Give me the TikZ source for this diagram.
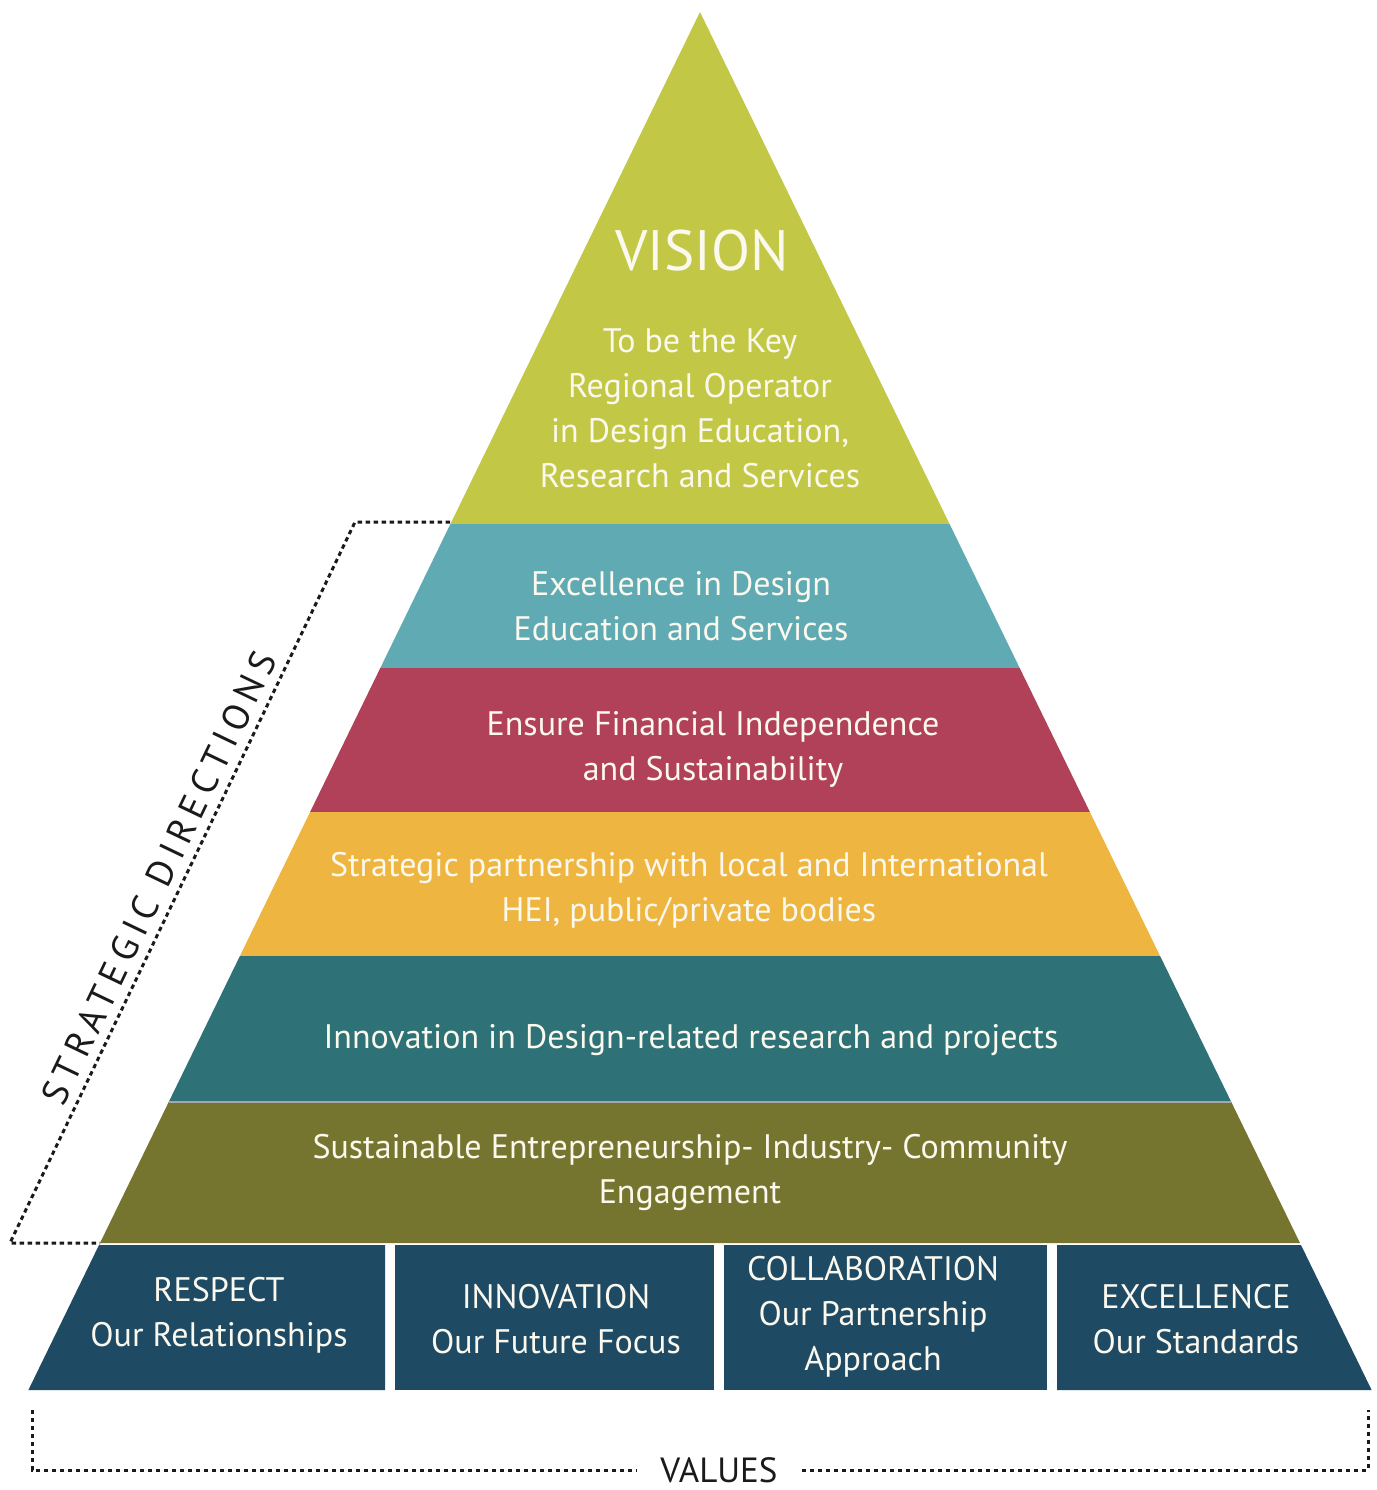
\documentclass[tikz,border=0pt]{standalone}
\usepackage{fontspec}
\setmainfont{PT Sans}
\definecolor{cvision}{HTML}{C2C846}
\definecolor{cteal}{HTML}{5FAAB3}
\definecolor{cred}{HTML}{B04159}
\definecolor{cyellow}{HTML}{EEB540}
\definecolor{cdteal}{HTML}{2E7277}
\definecolor{colive}{HTML}{767530}
\definecolor{cnavy}{HTML}{1F4A64}
\definecolor{ctext}{HTML}{FBF8EE}
\definecolor{cdash}{HTML}{1A1A1A}
\begin{document}
\begin{tikzpicture}[x=0.5pt,y=-0.5pt,
  bandtext/.style={text=ctext,align=center,font=\fontsize{17}{22.5}\selectfont},
  bracket/.style={draw=cdash,line width=1.5pt,dash pattern=on 2.2pt off 1.8pt}]
\useasboundingbox (0,0) rectangle (1377,1490);
% bands
\fill[cvision] (700,12) -- (949.6,524) -- (450.4,524) -- cycle;
\fill[cteal] (450.4,524) -- (949.6,524) -- (1019.7,668) -- (380.3,668) -- cycle;
\fill[cred] (380.3,668) -- (1019.7,668) -- (1089.9,812) -- (310.1,812) -- cycle;
\fill[cyellow] (310.1,812) -- (1089.9,812) -- (1160.1,956) -- (239.9,956) -- cycle;
\fill[cdteal] (239.9,956) -- (1160.1,956) -- (1231.3,1102) -- (168.7,1102) -- cycle;
\fill[colive] (168.7,1102) -- (1231.3,1102) -- (1300,1243) -- (100,1243) -- cycle;
\draw[color=gray!70,line width=0.8pt] (168.7,1102) -- (1231.3,1102);
% value boxes
\fill[cnavy] (99,1245) -- (385,1245) -- (385,1390) -- (28.4,1390) -- cycle;
\fill[cnavy] (395,1245) rectangle (714,1390);
\fill[cnavy] (724,1245) rectangle (1047,1390);
\fill[cnavy] (1057,1245) -- (1301,1245) -- (1371.6,1390) -- (1057,1390) -- cycle;
% texts
\node[text=ctext,font=\fontsize{28.5}{32}\selectfont] (vision) at (702,251) {VISION};
\node[bandtext] (visiontxt) at (700,408) {To be the Key\\Regional Operator\\in Design Education,\\Research and Services};
\node[bandtext] (sd1) at (681,606) {Excellence in Design\\Education and Services};
\node[bandtext] (sd2) at (713,749) {Ensure Financial Independence\\and Sustainability};
\node[bandtext] (sd3) at (689,890) {Strategic partnership with local and International\\HEI, public/private bodies};
\node[bandtext] (sd4) at (691,1040) {Innovation in Design-related research and projects};
\node[bandtext] (sd5) at (690,1172) {Sustainable Entrepreneurship- Industry- Community\\Engagement};
\node[bandtext] (v1) at (219,1315) {RESPECT\\Our Relationships};
\node[bandtext] (v2) at (556,1319) {INNOVATION\\Our Future Focus};
\node[bandtext] (v3) at (873,1317) {COLLABORATION\\Our Partnership\\Approach};
\node[bandtext] (v4) at (1196,1319) {EXCELLENCE\\Our Standards};
% strategic directions bracket
\coordinate (s1) at (450,522);
\coordinate (s2) at (355,522);
\coordinate (s3) at (10,1243);
\coordinate (s4) at (100,1243);
\draw[bracket] (s1) -- (s2) -- (s3) -- (s4);
\node[rotate=64.4,text=cdash,inner sep=0pt,font=\fontsize{18.5}{22}\selectfont\addfontfeature{LetterSpace=17}] (sdlabel) at (159,878) {STRATEGIC DIRECTIONS};
% values bracket
\node[text=cdash,inner sep=0pt,font=\fontsize{17.5}{22}\selectfont] (values) at (719,1470) {VALUES};
\coordinate (va) at (32,1410);
\coordinate (vb) at (1368,1410);
\draw[bracket] (va) -- (va |- values) -- ([xshift=-12pt]values.west);
\draw[bracket] ([xshift=12pt]values.east) -- (vb |- values) -- (vb);
\end{tikzpicture}
\end{document}
